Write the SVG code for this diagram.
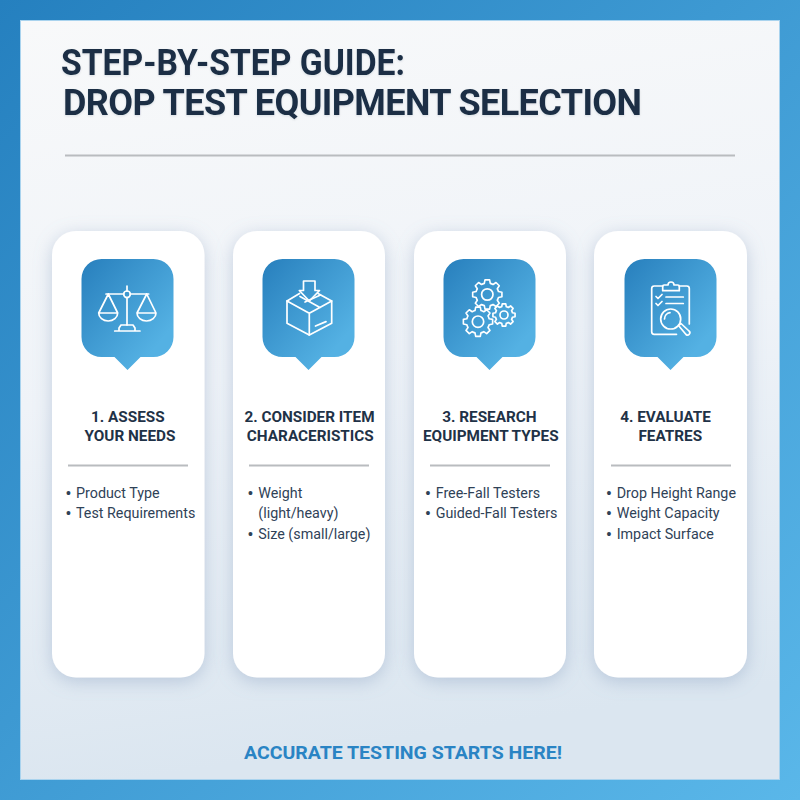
<svg xmlns="http://www.w3.org/2000/svg" width="800" height="800" viewBox="0 0 800 800">
<style>
text{font-family:Roboto,"Liberation Sans",sans-serif}
.title{font-size:36px;font-weight:700;fill:#1a2e44}
.head{font-size:15.300px;font-weight:700;fill:#1f3247;text-anchor:middle}
.body{font-size:14.300px;font-weight:400;fill:#2f4257}
.dot{font-size:16px;font-weight:700}
.rule{stroke:#b9bcbf;stroke-width:2;fill:none}
.card{fill:#fff;filter:url(#shadow)}
.badge{fill:url(#blue)}
.ico{fill:none;stroke:#fff;stroke-width:1.700;stroke-linejoin:round;stroke-linecap:round}
</style>
<defs>
<linearGradient id="bg" x1="0" y1="0" x2="1" y2="1"><stop offset="0" stop-color="#2580bf"/><stop offset="1" stop-color="#5ab7e9"/></linearGradient>
<linearGradient id="panel" x1="0" y1="0" x2="0.150" y2="1"><stop offset="0" stop-color="#f8f9fa"/><stop offset="0.500" stop-color="#eff3f8"/><stop offset="1" stop-color="#dbe6f0"/></linearGradient>
<linearGradient id="blue" x1="0" y1="0" x2="1" y2="1"><stop offset="0.050" stop-color="#2a82bf"/><stop offset="0.800" stop-color="#54b1e3"/></linearGradient>
<filter id="shadow" x="-25%" y="-10%" width="150%" height="120%"><feDropShadow dx="0" dy="4" stdDeviation="9" flood-color="#8299bb" flood-opacity="0.42"/></filter>
<filter id="soft" x="-5%" y="-20%" width="110%" height="140%"><feDropShadow dx="0" dy="1" stdDeviation="1.200" flood-color="#1a2e44" flood-opacity="0.12"/></filter>
<path id="bubble" class="badge" d="M20 0H72A20 20 0 0 1 92 20V78A20 20 0 0 1 72 98H59L46 111L33 98H20A20 20 0 0 1 0 78V20A20 20 0 0 1 20 0Z"/>
<path id="gearShape" d="M75.300-20.200L98.800-15.600L98.800 15.600L75.300 20.200A78 78 0 0 1 67.500 39L80.900 58.800L58.800 80.900L39 67.500A78 78 0 0 1 20.200 75.300L15.600 98.800L-15.600 98.800L-20.200 75.300A78 78 0 0 1 -39 67.500L-58.800 80.900L-80.900 58.800L-67.500 39A78 78 0 0 1 -75.300 20.200L-98.800 15.600L-98.800-15.600L-75.300-20.200A78 78 0 0 1 -67.500-39L-80.900-58.800L-58.800-80.900L-39-67.500A78 78 0 0 1 -20.200-75.300L-15.600-98.800L15.600-98.800L20.200-75.300A78 78 0 0 1 39-67.500L58.800-80.900L80.900-58.800L67.500-39A78 78 0 0 1 75.300-20.200Z"/>
</defs>

<rect id="background" width="800" height="800" fill="url(#bg)"/>
<rect id="panel-area" x="20.500" y="20.500" width="759" height="759" fill="url(#panel)" stroke="#a9d3ee" stroke-width="1"/>

<g id="header" filter="url(#soft)">
<text class="title" x="61" y="75" textLength="344" lengthAdjust="spacingAndGlyphs">STEP-BY-STEP GUIDE:</text>
<text class="title" x="63" y="115" textLength="579" lengthAdjust="spacing">DROP TEST EQUIPMENT SELECTION</text>
</g>
<line class="rule" x1="65" y1="155.500" x2="735" y2="155.500"/>

<g id="step-1">
<rect class="card" x="52" y="231" width="152.500" height="446.500" rx="24"/>
<use href="#bubble" x="81.500" y="259"/>
<g class="ico">
<path d="M127 286V291M127 297.600V325M106 294H123.700M130.300 294H148.700"/>
<circle cx="127" cy="294.300" r="3.300"/>
<path d="M119 331V328L121 325H133L135 328V331M114.700 331H140"/>
<path d="M108.300 294L98.700 313M108.300 294L117.700 313M98.700 313H117.700A9.500 8 0 0 1 98.700 313ZM146.700 294L137 313M146.700 294L156 313M137 313H156A9.500 8 0 0 1 137 313Z"/>
</g>
<text class="head" x="127.800" y="422">1. ASSESS</text>
<text class="head" x="130" y="441">YOUR NEEDS</text>
<line class="rule" x1="68" y1="465.500" x2="188" y2="465.500"/>
<text class="body" x="65.500" y="498"><tspan class="dot" dy="1">•</tspan><tspan x="76" dy="-1">Product Type</tspan></text>
<text class="body" x="65.500" y="518"><tspan class="dot" dy="1">•</tspan><tspan x="76" dy="-1">Test Requirements</tspan></text>
</g>

<g id="step-2">
<rect class="card" x="233" y="231" width="152" height="446.500" rx="24"/>
<use href="#bubble" x="262.500" y="259"/>
<g class="ico">
<path d="M303.500 281H315V290.500H319.500L309.300 301L299.300 290.500H303.500Z"/>
<path d="M299.500 293.500L287 301V323.300L309.300 335L331.700 323.300V301L318 293.500"/>
<path d="M287 301L309.300 313.300L331.700 301M309.300 313.300V335M300 296.500L320 307.500M305 302L320.500 295"/>
<path d="M315.500 326L326 321.700" stroke-width="1.800"/>
</g>
<text class="head" x="309.500" y="422">2. CONSIDER ITEM</text>
<text class="head" x="310.300" y="441">CHARACERISTICS</text>
<line class="rule" x1="249" y1="465.500" x2="369" y2="465.500"/>
<text class="body" x="247.500" y="498"><tspan class="dot" dy="1">•</tspan><tspan x="258.300" dy="-1">Weight</tspan></text>
<text class="body" x="258.300" y="518">(light/heavy)</text>
<text class="body" x="247.500" y="539"><tspan class="dot" dy="1">•</tspan><tspan x="258.300" dy="-1">Size (small/large)</tspan></text>
</g>

<g id="step-3">
<rect class="card" x="414" y="231" width="152" height="446.500" rx="24"/>
<use href="#bubble" x="443.500" y="259"/>
<g class="ico">
<use href="#gearShape" transform="translate(487.300 294.500) scale(.148)" stroke-width="11"/>
<circle cx="487.300" cy="294.500" r="5.700"/>
<use href="#gearShape" transform="translate(478 321.700) scale(.148)" stroke-width="11"/>
<circle cx="478" cy="321.700" r="5.700"/>
<use href="#gearShape" transform="translate(504 315) scale(.112)" stroke-width="15"/>
<circle cx="504" cy="315" r="4"/>
</g>
<text class="head" x="489.400" y="422">3. RESEARCH</text>
<text class="head" x="490.800" y="441">EQUIPMENT TYPES</text>
<line class="rule" x1="430" y1="465.500" x2="550" y2="465.500"/>
<text class="body" x="425" y="498"><tspan class="dot" dy="1">•</tspan><tspan x="435.700" dy="-1">Free-Fall Testers</tspan></text>
<text class="body" x="425" y="518"><tspan class="dot" dy="1">•</tspan><tspan x="435.700" dy="-1">Guided-Fall Testers</tspan></text>
</g>

<g id="step-4">
<rect class="card" x="594" y="231" width="153" height="446.500" rx="24"/>
<use href="#bubble" x="624.500" y="259"/>
<g class="ico">
<path d="M662.700 286H654.200A2.500 2.500 0 0 0 651.700 288.500V331.800A2.500 2.500 0 0 0 654.200 334.300H676.500M679.300 286H686.800A2.500 2.500 0 0 1 689.300 288.500V324"/>
<path d="M662.700 290.700V286.500A1.500 1.500 0 0 1 664.200 285H668A3 3 0 0 1 674 285H677.800A1.500 1.500 0 0 1 679.300 286.500V290.700Z"/>
<path d="M656 296.500L658 298.500L662 294.500M656 303.500L658 305.500L662 301.500M666 297H683.300M666 303.500H683.300"/>
<circle cx="670.700" cy="319" r="10"/>
<path d="M664.500 319A6.500 6.500 0 0 1 670 312.700"/>
<path d="M678.500 325.500L681 323.500L689 331A2 2 0 0 1 686 334.500Z"/>
</g>
<text class="head" x="665.500" y="422">4. EVALUATE</text>
<text class="head" x="670.300" y="441">FEATRES</text>
<line class="rule" x1="611" y1="465.500" x2="731" y2="465.500"/>
<text class="body" x="606" y="498"><tspan class="dot" dy="1">•</tspan><tspan x="616.700" dy="-1">Drop Height Range</tspan></text>
<text class="body" x="606" y="518"><tspan class="dot" dy="1">•</tspan><tspan x="616.700" dy="-1">Weight Capacity</tspan></text>
<text class="body" x="606" y="539"><tspan class="dot" dy="1">•</tspan><tspan x="616.700" dy="-1">Impact Surface</tspan></text>
</g>

<text id="footer" x="244" y="759" font-size="18.500" font-weight="700" fill="#2a84c4" textLength="318" lengthAdjust="spacingAndGlyphs">ACCURATE TESTING STARTS HERE!</text>
<g id="connectors"/>
</svg>
